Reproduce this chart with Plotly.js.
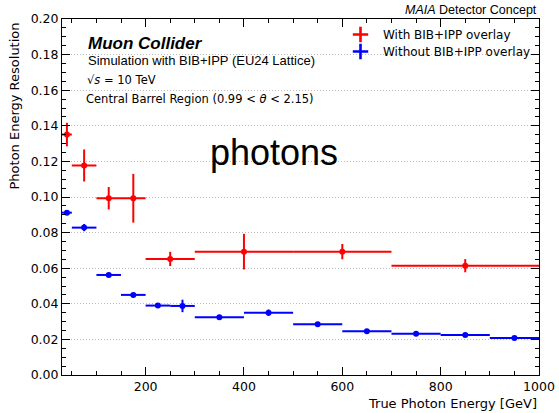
<!DOCTYPE html>
<html>
<head>
<meta charset="utf-8">
<script src="https://cdn.plot.ly/plotly-3.0.1.min.js"></script>
<style>html,body{margin:0;padding:0;background:#fff;}#chart{width:559px;height:413px;}</style>
</head>
<body>
<div id="chart"></div>
<script>
// ---- data ----
const redEdges = [30, 50, 100, 150, 200, 300, 500, 700, 1000];
const redRes   = [0.1351, 0.1177, 0.0993, 0.0993, 0.0652, 0.0693, 0.0693, 0.0614];
const redErr   = [0.0066, 0.0090, 0.0063, 0.0137, 0.0040, 0.0100, 0.0043, 0.0037];

const blueEdges = [30, 50, 100, 150, 200, 250, 300, 400, 500, 600, 700, 800, 900, 1000];
const blueRes   = [0.0912, 0.0828, 0.0562, 0.0450, 0.0390, 0.0388, 0.0324, 0.0350, 0.0285, 0.0246, 0.0232, 0.0225, 0.0208];
const blueErr   = [0.0010, 0.0020, 0.0010, 0.0010, 0.0010, 0.0035, 0.0008, 0.0018, 0.0008, 0.0008, 0.0008, 0.0008, 0.0008];

const xTickVals = [200, 400, 600, 800, 1000];
const yTickVals = [0.00, 0.02, 0.04, 0.06, 0.08, 0.10, 0.12, 0.14, 0.16, 0.18, 0.20];

function centers(e){ const c=[]; for(let i=0;i<e.length-1;i++) c.push((e[i]+e[i+1])/2); return c; }
function halfw(e){ const h=[]; for(let i=0;i<e.length-1;i++) h.push((e[i+1]-e[i])/2); return h; }

const RED = '#ff0000', BLUE = '#0000ff';
function dataTrace(edges, vals, errs, color){
  return {
    type:'scatter', mode:'markers', x:centers(edges), y:vals, showlegend:false,
    marker:{color:color, size:6, symbol:'circle'},
    error_x:{type:'data', array:halfw(edges), visible:true, color:color, thickness:2, width:0},
    error_y:{type:'data', array:errs, visible:true, color:color, thickness:2, width:0},
    hoverinfo:'skip'
  };
}
function legendTrace(name, color, lg){
  return {type:'scatter', mode:'markers', x:[null], y:[null], name:name, showlegend:true, legend:lg,
    marker:{symbol:'cross-thin', size:11, color:color, line:{color:color, width:2.6}}};
}

const traces = [
  dataTrace(redEdges, redRes, redErr, RED),
  dataTrace(blueEdges, blueRes, blueErr, BLUE),
  legendTrace('With BIB+IPP overlay', RED, 'legend'),
  legendTrace('Without BIB+IPP overlay', BLUE, 'legend2')
];

const L=62, R=20, T=19, B=38, W=559, H=413;
const pw=W-L-R, ph=H-T-B;
const px=(x)=> (x-L)/pw;
const py=(y)=> (H-B-y)/ph;

const DV='DejaVu Sans', LS='Liberation Sans';
const legStyle = (y)=>({x:px(338), y:py(y), xanchor:'left', yanchor:'top', bgcolor:'rgba(0,0,0,0)',
          font:{family:DV, size:12, color:'#000'}, itemwidth:35});

const layout = {
  width:W, height:H,
  margin:{l:L, r:R, t:T, b:B, pad:0},
  paper_bgcolor:'#ffffff', plot_bgcolor:'#ffffff',
  font:{family:DV, size:12.5, color:'#000'},
  showlegend:true,
  legend:legStyle(20),
  legend2:legStyle(37),
  xaxis:{range:[30,1000], tickvals:xTickVals, ticktext:xTickVals.map(String),
         ticks:'inside', ticklen:8, tickwidth:1, tickcolor:'#000',
         showline:true, linecolor:'#000', linewidth:1, mirror:'allticks',
         showgrid:false, zeroline:false,
         minor:{ticks:'inside', ticklen:4, tickwidth:1, tickcolor:'#000', dtick:50, tick0:0, showgrid:false},
         tickfont:{family:DV, size:12.5}},
  yaxis:{range:[0,0.2], tickvals:yTickVals, ticktext:yTickVals.map(v=>v.toFixed(2)),
         ticks:'inside', ticklen:8, tickwidth:1, tickcolor:'#000',
         showline:true, linecolor:'#000', linewidth:1, mirror:'allticks',
         showgrid:true, gridcolor:'#bdbdbd', griddash:'1px,2px', gridwidth:1, zeroline:false,
         minor:{ticks:'inside', ticklen:4, tickwidth:1, tickcolor:'#000', dtick:0.005, tick0:0, showgrid:false},
         tickfont:{family:DV, size:12.5}},
  annotations:[
    {xref:'paper', yref:'paper', x:1, y:1, xanchor:'right', yanchor:'bottom', yshift:0, showarrow:false,
     text:'<i>MAIA</i> Detector Concept', font:{family:LS, size:12.5}},
    {xref:'paper', yref:'paper', x:px(86), y:py(43), xanchor:'left', yanchor:'middle', showarrow:false,
     text:'<b><i>Muon Collider</i></b>', font:{family:LS, size:17}},
    {xref:'paper', yref:'paper', x:px(86), y:py(61), xanchor:'left', yanchor:'middle', showarrow:false,
     text:'Simulation with BIB+IPP (EU24 Lattice)', font:{family:LS, size:13}},
    {xref:'paper', yref:'paper', x:px(85), y:py(80), xanchor:'left', yanchor:'middle', showarrow:false,
     text:'√<i>s</i> = 10 TeV', font:{family:DV, size:11.5}},
    {xref:'paper', yref:'paper', x:px(84), y:py(99), xanchor:'left', yanchor:'middle', showarrow:false,
     text:'Central Barrel Region (0.99 &lt; <i>θ</i> &lt; 2.15)', font:{family:DV, size:11.5}},
    {xref:'paper', yref:'paper', x:px(274), y:py(152), xanchor:'center', yanchor:'middle', showarrow:false,
     text:'photons', font:{family:LS, size:36}},
    {xref:'paper', yref:'paper', x:1, y:py(403), xanchor:'right', yanchor:'middle', showarrow:false,
     text:'True Photon Energy [GeV]', font:{family:DV, size:13}},
    {xref:'paper', yref:'paper', x:px(14), y:py(21), xanchor:'center', yanchor:'top', showarrow:false, textangle:-90,
     text:'Photon Energy Resolution', font:{family:DV, size:13}}
  ]
};

Plotly.newPlot('chart', traces, layout, {staticPlot:true, displayModeBar:false});
</script>
</body>
</html>
